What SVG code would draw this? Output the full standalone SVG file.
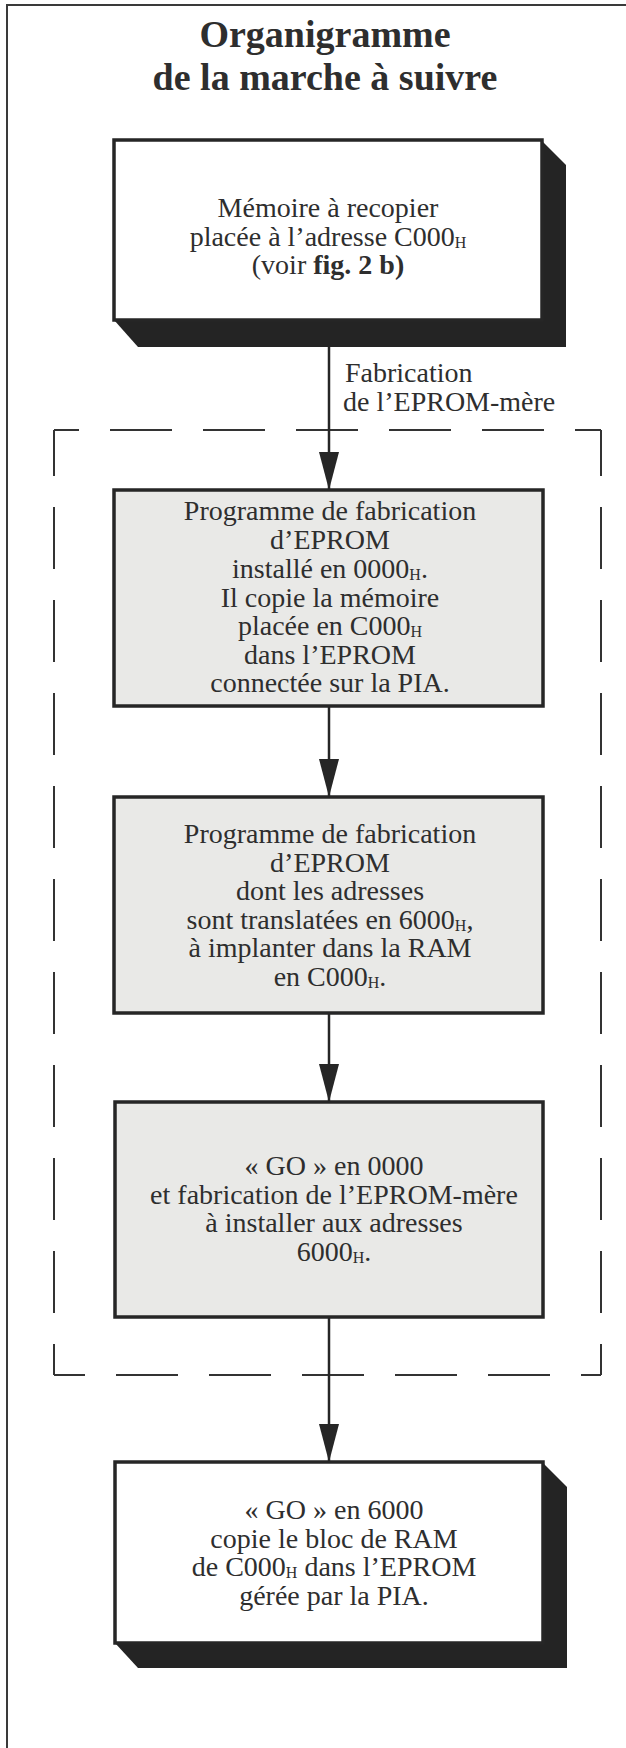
<svg xmlns="http://www.w3.org/2000/svg" width="626" height="1748" viewBox="0 0 626 1748">
<style>
.t{font-family:"Liberation Serif","Times New Roman",serif;font-size:28px;fill:#2e2e2e;text-anchor:middle}
.lbl{font-family:"Liberation Serif","Times New Roman",serif;font-size:28px;fill:#2e2e2e}
.title{font-family:"Liberation Serif","Times New Roman",serif;font-size:38px;font-weight:bold;fill:#2e2e2e;text-anchor:middle}
.s{font-size:16px}
.b{font-weight:bold}
.box{stroke:#262626;stroke-width:3.5}
.white{fill:#ffffff}
.grey{fill:#e9e9e7}
.shadow{fill:#242424}
.dash{fill:none;stroke:#333;stroke-width:2;stroke-dasharray:62 31}
.conn{stroke:#262626;stroke-width:2.5;fill:none}
</style>
<defs>
<marker id="ah" markerUnits="userSpaceOnUse" markerWidth="40" markerHeight="22" refX="38" refY="10" orient="auto">
<path d="M0,0 L38,10 L0,20 z" fill="#262626"/>
</marker>
</defs>
<rect width="626" height="1748" fill="#ffffff"/>
<path d="M7,1748 V5 H626" fill="none" stroke="#3a3a3a" stroke-width="2"/>
<g id="title">
<text class="title" x="325" y="47">Organigramme</text>
<text class="title" x="325" y="90">de la marche à suivre</text>
</g>
<g id="group-dashed">
<line class="dash" x1="54" y1="430" x2="601" y2="430" stroke-dashoffset="37"/>
<line class="dash" x1="601" y1="430" x2="601" y2="1375" stroke-dashoffset="16"/>
<line class="dash" x1="54" y1="1375" x2="601" y2="1375" stroke-dashoffset="31"/>
<line class="dash" x1="54" y1="430" x2="54" y2="1375" stroke-dashoffset="16"/>
</g>
<g id="connectors">
<line class="conn" x1="329" y1="347" x2="329" y2="490" marker-end="url(#ah)"/>
<line class="conn" x1="329" y1="706" x2="329" y2="797" marker-end="url(#ah)"/>
<line class="conn" x1="329" y1="1013" x2="329" y2="1102" marker-end="url(#ah)"/>
<line class="conn" x1="329" y1="1317" x2="329" y2="1462" marker-end="url(#ah)"/>
<text class="lbl" x="345" y="382">Fabrication</text>
<text class="lbl" x="343" y="411">de l’EPROM-mère</text>
</g>
<g id="node1">
<polygon class="shadow" points="541,140 566,165 566,347 138,347 114,320"/>
<rect class="box white" x="114" y="140" width="428" height="180"/>
<text class="t" x="328" y="217">Mémoire à recopier</text>
<text class="t" x="328" y="245.5">placée à l’adresse C000<tspan class="s" dy="2">H</tspan></text>
<text class="t" x="328" y="274">(voir <tspan class="b">fig. 2 b)</tspan></text>
</g>
<g id="node2">
<rect class="box grey" x="114" y="490" width="429" height="216"/>
<text class="t" x="330" y="520">Programme de fabrication</text>
<text class="t" x="330" y="549">d’EPROM</text>
<text class="t" x="330" y="578">installé en 0000<tspan class="s" dy="2">H</tspan><tspan dy="-2">.</tspan></text>
<text class="t" x="330" y="606.5">Il copie la mémoire</text>
<text class="t" x="330" y="635">placée en C000<tspan class="s" dy="2">H</tspan></text>
<text class="t" x="330" y="663.5">dans l’EPROM</text>
<text class="t" x="330" y="692">connectée sur la PIA.</text>
</g>
<g id="node3">
<rect class="box grey" x="114" y="797" width="429" height="216"/>
<text class="t" x="330" y="843">Programme de fabrication</text>
<text class="t" x="330" y="871.5">d’EPROM</text>
<text class="t" x="330" y="900">dont les adresses</text>
<text class="t" x="330" y="928.5">sont translatées en 6000<tspan class="s" dy="2">H</tspan><tspan dy="-2">,</tspan></text>
<text class="t" x="330" y="957">à implanter dans la RAM</text>
<text class="t" x="330" y="985.5">en C000<tspan class="s" dy="2">H</tspan><tspan dy="-2">.</tspan></text>
</g>
<g id="node4">
<rect class="box grey" x="115" y="1102" width="428" height="215"/>
<text class="t" x="334" y="1175">« GO » en 0000</text>
<text class="t" x="334" y="1203.5">et fabrication de l’EPROM-mère</text>
<text class="t" x="334" y="1232">à installer aux adresses</text>
<text class="t" x="334" y="1260.5">6000<tspan class="s" dy="2">H</tspan><tspan dy="-2">.</tspan></text>
</g>
<g id="node5">
<polygon class="shadow" points="542,1462 567,1487 567,1668 138,1668 115,1643"/>
<rect class="box white" x="115" y="1462" width="428" height="181"/>
<text class="t" x="334" y="1519">« GO » en 6000</text>
<text class="t" x="334" y="1547.5">copie le bloc de RAM</text>
<text class="t" x="334" y="1576">de C000<tspan class="s" dy="2">H</tspan><tspan dy="-2"> dans l’EPROM</tspan></text>
<text class="t" x="334" y="1604.5">gérée par la PIA.</text>
</g>
</svg>
